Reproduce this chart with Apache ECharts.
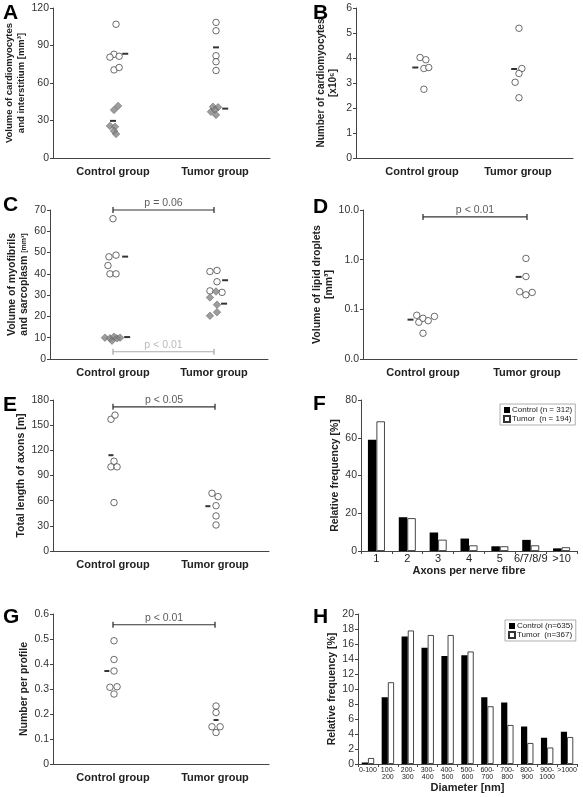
<!DOCTYPE html>
<html><head><meta charset="utf-8">
<script src="https://cdn.jsdelivr.net/npm/echarts@6/dist/echarts.min.js"></script>
<style>html,body{margin:0;padding:0;background:#fff}#c{width:583px;height:797px}</style>
</head><body><div id="c"></div>
<script>
// ---------- data ----------
const groups = ['Control group', 'Tumor group'];

// Panel A (open circles and grey diamonds), jitter in ~px
const aCtrlCirc = [107, 83, 80.7, 81.4, 70.5, 72.4];
const aCtrlCircJit = [3, 1, -3, 6, 1, 6];
const aTumCirc = [108.5, 101.8, 81.8, 77, 70];
const aTumCircJit = [1, 1, 1, 1, 1];
const aCtrlDia = [41.7, 38.5, 25.7, 25, 21.6, 19.2];
const aCtrlDiaJit = [5, 1, -3, 2, 1, 3];
const aTumDia = [41, 40.6, 37, 38.5, 34.5];
const aTumDiaJit = [-2, 3, -4, 0, 1];
const aCircMean = [83.4, 88.5];
const aCircMeanJit = [12, 1];
const aDiaMean = [29.7, 39.5];
const aDiaMeanJit = [0, 10];

// Panel B
const bCtrl = [4.02, 3.93, 3.58, 3.62, 2.75];
const bCtrlJit = [-2, 4, 2, 7, 2];
const bTum = [5.19, 3.58, 3.38, 3.03, 2.41];
const bTumJit = [1, 4, 1, -3, 1];
const bMean = [3.62, 3.56];
const bMeanJit = [-7, -4];

// Panel C
const cCtrlCirc = [65.9, 48, 48.8, 43.9, 40, 40];
const cCtrlCircJit = [0, -4, 3, -5, -3, 3];
const cTumCirc = [41.1, 41.6, 36.3, 32, 31.3];
const cTumCircJit = [-4, 3, 3, -4, 8];
const cCtrlDia = [10, 9.7, 8.6, 10.5, 9.7, 10];
const cCtrlDiaJit = [-8, -3, -1, 1, 4, 7];
const cTumDia = [28.9, 31.7, 25.5, 22, 20.3];
const cTumDiaJit = [-4, 2, 3, 3, -4];
const cCircMean = [48.1, 37];
const cCircMeanJit = [12, 11];
const cDiaMean = [10.3, 26];
const cDiaMeanJit = [14, 10];
const cSigText = ['p = 0.06', 'p < 0.01'];
const cSigY = [70, 3.4];

// Panel D (log scale)
const dCtrl = [0.076, 0.055, 0.066, 0.059, 0.072, 0.033];
const dCtrlJit = [-6, -4, 0, 5, 11, 0];
const dTum = [1.06, 0.457, 0.226, 0.196, 0.219];
const dTumJit = [-1, -1, -7, -1, 5];
const dMean = [0.062, 0.45];
const dMeanJit = [-12, -8];
const dSigText = 'p < 0.01';
const dSigY = 7.24;

// Panel E
const eCtrl = [157, 162, 107, 100.3, 100.3, 57.7];
const eCtrlJit = [-2, 2, 1, -2, 4, 1];
const eTum = [68.8, 64.8, 54, 41.8, 31];
const eTumJit = [-3, 3, 1, 1, 1];
const eMean = [114.2, 53.4];
const eMeanJit = [-2, -7];
const eSigText = 'p < 0.05';
const eSigY = 171.9;

// Panel F
const fCats = ['1', '2', '3', '4', '5', '6/7/8/9', '>10'];
const fControl = [58.9, 17.9, 9.8, 6.6, 2.5, 5.9, 1.4];
const fTumor = [68.7, 17.4, 6.0, 3.0, 2.5, 3.0, 2.0];
const fNames = ['Control (n = 312)', 'Tumor  (n = 194)'];

// Panel G
const gCtrl = [0.493, 0.418, 0.372, 0.307, 0.309, 0.28];
const gCtrlJit = [1, 1, 1, -3, 4, 1];
const gTum = [0.232, 0.206, 0.149, 0.149, 0.126];
const gTumJit = [1, 1, -3, 5, 1];
const gMean = [0.372, 0.176];
const gMeanJit = [-6, 1];
const gSigText = 'p < 0.01';
const gSigY = 0.557;

// Panel H
const hCats = ['0-100', '100-\n200', '200-\n300', '300-\n400', '400-\n500', '500-\n600', '600-\n700', '700-\n800', '800-\n900', '900-\n1000', '>1000'];
const hControl = [0.2, 8.9, 17.0, 15.5, 14.4, 14.5, 8.9, 8.2, 5.0, 3.5, 4.3];
const hTumor = [0.8, 10.9, 17.8, 17.2, 17.2, 15.0, 7.7, 5.2, 2.8, 2.2, 3.6];
const hNames = ['Control (n=635)', 'Tumor  (n=367)'];

// ---------- helpers ----------
const FONT = 'Liberation Sans';
const AX = '#444';
const TXT = '#222';

function pts(ys, jit, g) { return ys.map((y, i) => [g * 100 + jit[i], y]); }
function both(c, cj, t, tj) { return pts(c, cj, 0).concat(pts(t, tj, 1)); }
function meanPts(m, mj) { return m.map((y, g) => [g * 100 + mj[g], y]); }

function circles(i, data) {
  return { type: 'scatter', xAxisIndex: i, yAxisIndex: i, data, symbol: 'circle', symbolSize: 6.5,
    itemStyle: { color: '#fff', borderColor: '#333', borderWidth: 0.9 }, z: 3 };
}
function diamonds(i, data) {
  return { type: 'scatter', xAxisIndex: i, yAxisIndex: i, data, symbol: 'diamond', symbolSize: 7.5,
    itemStyle: { color: '#858585', borderColor: '#555', borderWidth: 0.6 }, z: 3 };
}
function means(i, data, w) {
  return { type: 'scatter', xAxisIndex: i, yAxisIndex: i, data, symbol: 'rect', symbolSize: [w, 2],
    itemStyle: { color: '#000' }, z: 4 };
}
function sig(i, y, text, color) {
  return [
    { type: 'line', xAxisIndex: i, yAxisIndex: i, data: [[0, y], [100, y]], symbol: 'rect', symbolSize: [1.3, 6],
      showSymbol: true, clip: false, lineStyle: { color, width: 1.2 }, itemStyle: { color }, z: 2 },
    { type: 'scatter', xAxisIndex: i, yAxisIndex: i, data: [[50, y]], symbolSize: 0, clip: false,
      label: { show: true, position: 'top', distance: 1, formatter: text, fontSize: 10.5, color, fontFamily: FONT } }
  ];
}

const grids = [
  { left: 53, top: 8, width: 217, height: 150 },
  { left: 356, top: 8, width: 217, height: 150 },
  { left: 50, top: 210, width: 218, height: 149 },
  { left: 363, top: 210, width: 214, height: 149 },
  { left: 53, top: 400, width: 216, height: 151 },
  { left: 361, top: 400, width: 216, height: 151 },
  { left: 53, top: 614, width: 216, height: 150 },
  { left: 358, top: 614, width: 219, height: 150 }
];

function groupX(i, min, max) {
  return { type: 'value', gridIndex: i, min, max,
    axisLine: { onZero: false, lineStyle: { color: AX, width: 1 } }, axisTick: { show: false }, splitLine: { show: false },
    axisLabel: { customValues: [0, 100], formatter: v => groups[Math.round(v / 100)], fontWeight: 'bold',
      fontSize: 11, margin: 8, color: TXT, fontFamily: FONT } };
}
function catX(i, data, fs, name, gap) {
  return { type: 'category', gridIndex: i, data,
    axisLine: { onZero: false, lineStyle: { color: AX, width: 1 } },
    axisTick: { show: true, length: 3, lineStyle: { color: AX } }, splitLine: { show: false },
    axisLabel: { fontSize: fs, margin: 2, color: TXT, fontFamily: FONT, interval: 0, lineHeight: fs + 0.5 },
    name, nameLocation: 'middle', nameGap: gap,
    nameTextStyle: { fontWeight: 'bold', fontSize: 11, color: TXT, fontFamily: FONT } };
}
function valY(i, min, max, interval, name, gap, nameSize, fmt, extra) {
  return Object.assign({ type: 'value', gridIndex: i, min, max, interval,
    axisLine: { show: true, onZero: false, lineStyle: { color: AX, width: 1 } },
    axisTick: { show: true, length: 3, lineStyle: { color: AX } }, splitLine: { show: false },
    axisLabel: { fontSize: 10.5, margin: 4, color: '#333', fontFamily: FONT, formatter: fmt },
    name, nameLocation: 'middle', nameRotate: 90, nameGap: gap,
    nameTextStyle: { fontWeight: 'bold', fontSize: nameSize, lineHeight: 12, color: TXT, fontFamily: FONT } }, extra || {});
}

const xAxes = [
  groupX(0, -58.8, 153.9),
  groupX(1, -68.75, 157.3),
  groupX(2, -62.4, 153.5),
  groupX(3, -57.7, 148.1),
  groupX(4, -58.8, 152.9),
  catX(5, fCats, 11, 'Axons per nerve fibre', 7),
  groupX(6, -58.8, 152.9),
  catX(7, hCats, 7, 'Diameter [nm]', 18)
];
const yAxes = [
  valY(0, 0, 120, 30, 'Volume of cardiomyocytes\nand interstitium [mm³]', 24, 9.5),
  valY(1, 0, 6, 1, 'Number of cardiomyocytes\n[x10⁶]', 16.5, 10),
  valY(2, 0, 70, 10, 'Volume of myofibrils\nand sarcoplasm {s|[mm³]}', 18, 10.5),
  valY(3, 0.01, 10, undefined, 'Volume of lipid droplets\n[mm³]', 23.5, 10.5, v => v.toFixed(1),
    { type: 'log', logBase: 10, minorTick: { show: false } }),
  valY(4, 0, 180, 30, 'Total length of axons [m]', 21, 10.5),
  valY(5, 0, 80, 20, 'Relative frequency [%]', 20, 10.5),
  valY(6, 0, 0.6, 0.1, 'Number per profile', 20, 10.5, v => (v === 0 ? '0' : v.toFixed(1))),
  valY(7, 0, 20, 2, 'Relative frequency [%]', 15.5, 10.5)
];
yAxes[2].nameTextStyle.rich = { s: { fontSize: 7, fontWeight: 'bold', color: TXT, fontFamily: FONT } };

const series = [
  circles(0, both(aCtrlCirc, aCtrlCircJit, aTumCirc, aTumCircJit)),
  diamonds(0, both(aCtrlDia, aCtrlDiaJit, aTumDia, aTumDiaJit)),
  means(0, meanPts(aCircMean, aCircMeanJit), 6),
  means(0, meanPts(aDiaMean, aDiaMeanJit), 6),

  circles(1, both(bCtrl, bCtrlJit, bTum, bTumJit)),
  means(1, meanPts(bMean, bMeanJit), 6),

  circles(2, both(cCtrlCirc, cCtrlCircJit, cTumCirc, cTumCircJit)),
  diamonds(2, both(cCtrlDia, cCtrlDiaJit, cTumDia, cTumDiaJit)),
  means(2, meanPts(cCircMean, cCircMeanJit), 6),
  means(2, meanPts(cDiaMean, cDiaMeanJit), 6),
  ...sig(2, cSigY[0], cSigText[0], '#333'),
  ...sig(2, cSigY[1], cSigText[1], '#aaa'),

  circles(3, both(dCtrl, dCtrlJit, dTum, dTumJit)),
  means(3, meanPts(dMean, dMeanJit), 6),
  ...sig(3, dSigY, dSigText, '#333'),

  circles(4, both(eCtrl, eCtrlJit, eTum, eTumJit)),
  means(4, meanPts(eMean, eMeanJit), 5),
  ...sig(4, eSigY, eSigText, '#333'),

  { type: 'bar', name: fNames[0], xAxisIndex: 5, yAxisIndex: 5, data: fControl, barWidth: 8.5, barGap: '0%',
    itemStyle: { color: '#000' } },
  { type: 'bar', name: fNames[1], xAxisIndex: 5, yAxisIndex: 5, data: fTumor, barWidth: 8.5, barGap: '0%',
    itemStyle: { color: '#fff', borderColor: '#333', borderWidth: 0.9 } },

  circles(6, both(gCtrl, gCtrlJit, gTum, gTumJit)),
  means(6, meanPts(gMean, gMeanJit), 5),
  ...sig(6, gSigY, gSigText, '#333'),

  { type: 'bar', name: hNames[0], xAxisIndex: 7, yAxisIndex: 7, data: hControl, barWidth: 6.2, barGap: '0%',
    itemStyle: { color: '#000' } },
  { type: 'bar', name: hNames[1], xAxisIndex: 7, yAxisIndex: 7, data: hTumor, barWidth: 6.2, barGap: '0%',
    itemStyle: { color: '#fff', borderColor: '#333', borderWidth: 0.9 } }
];

function legendAt(names, left, top) {
  return { data: names, left, top, orient: 'vertical', itemWidth: 6, itemHeight: 6, itemGap: 1,
    padding: [2, 3], borderColor: '#999', borderWidth: 0.8, icon: 'rect',
    textStyle: { fontSize: 8, color: TXT, fontFamily: FONT, padding: [0, 0, 0, -3] }, selectedMode: false };
}

const letters = [['A', 3, 13], ['B', 313, 13], ['C', 3, 205], ['D', 313, 207], ['E', 3, 405], ['F', 313, 404], ['G', 3, 617], ['H', 313, 617]];

const chart = echarts.init(document.getElementById('c'), null, { renderer: 'canvas' });
chart.setOption({
  animation: false,
  backgroundColor: '#fff',
  textStyle: { fontFamily: FONT },
  grid: grids,
  xAxis: xAxes,
  yAxis: yAxes,
  legend: [legendAt(fNames, 500, 404), legendAt(hNames, 505, 620)],
  series,
  graphic: letters.map(([t, x, y]) => ({ type: 'text', x, y,
    style: { text: t, fontSize: 21, fontWeight: 'bold', fontFamily: FONT, fill: '#000', textVerticalAlign: 'middle' } }))
});
</script></body></html>
